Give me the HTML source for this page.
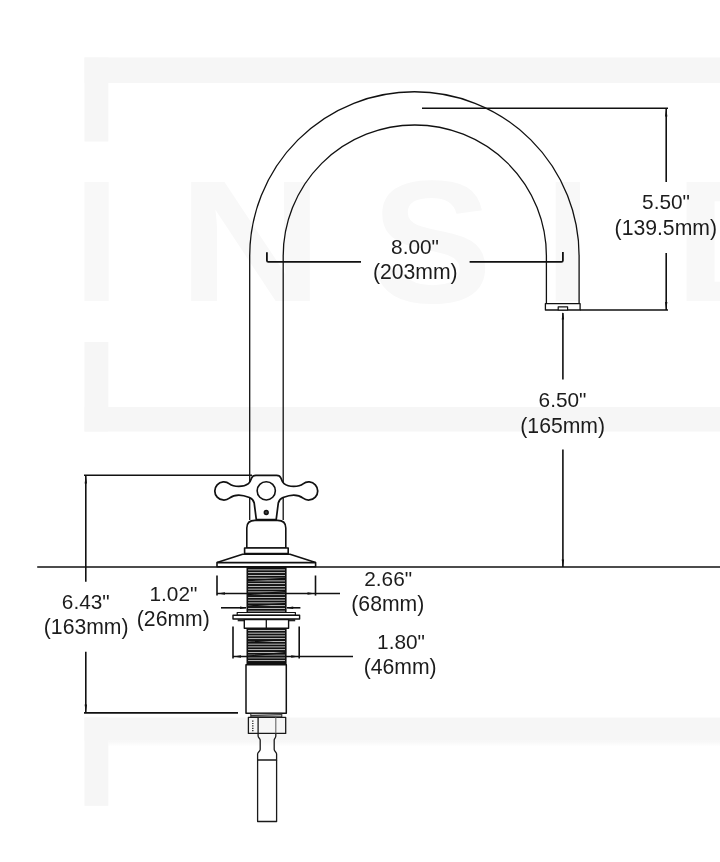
<!DOCTYPE html>
<html>
<head>
<meta charset="utf-8">
<title>Faucet dimensions</title>
<style>
html,body{margin:0;padding:0;background:#fff;}
body{width:720px;height:862px;overflow:hidden;}
svg{display:block;transform:translateZ(0);will-change:transform;}
.t{font-family:"Liberation Sans",Arial,sans-serif;font-size:20.8px;fill:#1c1c1c;text-anchor:middle;}
.wm{font-family:"Liberation Sans",Arial,sans-serif;font-weight:bold;font-size:168px;fill:#f8f8f8;}
.l{stroke:#111;stroke-width:1.6;fill:none;}
.s{stroke:#111;stroke-width:1.3;fill:none;}
.t2{font-size:21.2px;}
.a{fill:#111;stroke:none;}
.o{stroke:#111;stroke-width:1.6;fill:#fff;stroke-linejoin:round;}
</style>
</head>
<body>
<svg width="720" height="862" viewBox="0 0 720 862">
<defs>
<linearGradient id="fade" x1="0" y1="0" x2="0" y2="1"><stop offset="0" stop-color="#f6f6f6"/><stop offset="1" stop-color="#ffffff"/></linearGradient>
<pattern id="thr" x="0" y="567.6" width="40" height="2.75" patternUnits="userSpaceOnUse">
<rect x="0" y="0" width="40" height="2.75" fill="#dddddd"/>
<rect x="0" y="0" width="40" height="1.9" fill="#111"/>
</pattern>
</defs>
<rect width="720" height="862" fill="#fff"/>

<!-- watermark -->
<g fill="#f6f6f6">
<rect x="84.5" y="57.5" width="640" height="25.5"/>
<rect x="84.5" y="57.5" width="23.8" height="84"/>
<rect x="84.5" y="342" width="23.8" height="89.5"/>
<rect x="84.5" y="407" width="640" height="24.5"/>
<rect x="84.5" y="717.6" width="640" height="23"/>
<rect x="108.3" y="740.5" width="616" height="6" fill="url(#fade)"/>
<rect x="84.5" y="717.6" width="23.8" height="88.2"/>
</g>
<g class="wm">
<text transform="translate(85 301) scale(1 1.032)" x="-11.7" y="0">I</text>
<text transform="translate(192.5 301) scale(1.2 1.032)" x="-12.3" y="0">N</text>
<text transform="translate(380 301.5) scale(1.08 1.04)" x="-8" y="0">S</text>
<text transform="translate(556.2 301) scale(1 1.032)" x="-11.7" y="0">I</text>
<text transform="translate(688 301) scale(1.15 1.032)" x="-12.3" y="0">D</text>
</g>

<!-- spout -->
<path class="s" d="M249.7 520 V256 A164.7 164.3 0 0 1 579.1 256 V304"/>
<path class="s" d="M283.2 520 V256 A131.6 131 0 0 1 546.4 256 V304"/>
<rect class="o" style="stroke-width:1.3" x="545.4" y="303.6" width="34.7" height="6.4"/>
<rect class="o" style="stroke-width:1.2" x="558.2" y="306.8" width="9.4" height="3.2"/>


<!-- handle -->
<path class="o" style="stroke-width:1.75" d="M276.60 475.40 C279.00 475.40 280.30 476.40 281.00 478.20 C281.80 480.60 282.30 482.30 284.00 483.60 C286.50 485.50 290.00 486.40 293.70 486.40 C297.00 486.40 301.03 485.42 303.08 483.82 A9.05 9.05 0 1 1 303.08 498.08 C301.03 496.48 297.00 495.00 293.70 495.00 C290.00 495.00 286.00 496.30 283.00 497.50 C280.50 498.50 279.00 500.30 278.30 503.00 L276.20 519.50 H256.30 L254.20 503.00 C253.50 500.30 252.00 498.50 249.50 497.50 C246.50 496.30 242.50 495.00 238.80 495.00 C235.50 495.00 231.47 496.48 229.42 498.08 A9.05 9.05 0 1 1 229.42 483.82 C231.47 485.42 235.50 486.40 238.80 486.40 C242.50 486.40 246.00 485.50 248.50 483.60 C250.20 482.30 250.70 480.60 251.50 478.20 C252.20 476.40 253.50 475.40 255.90 475.40 Z"/>
<circle class="o" cx="266.25" cy="490.85" r="9.1"/>
<circle cx="266.25" cy="512.5" r="1.9" fill="#444" stroke="#111" stroke-width="1.5"/>

<!-- bell -->
<path class="o" d="M255 520.4 H277.6 C283 520.4 285.8 523 285.8 528 V548 H246.8 V528 C246.8 523 249.6 520.4 255 520.4 Z"/>
<rect class="o" x="244.6" y="548" width="43.6" height="5.6"/>
<path class="o" d="M242.6 554.2 H290 L315.6 562.6 V566.8 H217 V562.6 Z"/>
<path class="l" d="M217 562.6 H315.6"/>

<!-- threads -->
<rect x="247.3" y="567.3" width="38.5" height="45.4" fill="url(#thr)" stroke="#111" stroke-width="1.6"/>
<path d="M248 580.6 L285 578.4 M248 594.6 L285 591.6 M248 606 L285 603.5" stroke="#111" stroke-width="1.2" fill="none"/>
<rect x="247.3" y="628" width="38.5" height="36.8" fill="url(#thr)" stroke="#111" stroke-width="1.6"/>
<path d="M248 642 L285 639.6 M248 656 L285 652.6" stroke="#111" stroke-width="1.2" fill="none"/>
<rect x="247.3" y="661.6" width="38.5" height="3.2" fill="#111"/>
<!-- washer + nut -->
<rect class="o" style="stroke-width:1.2" x="237.2" y="612.5" width="58.2" height="2.8"/>
<rect class="o" style="stroke-width:1.4" x="233" y="615.3" width="66.6" height="3.7"/>
<rect x="237.7" y="619" width="6.6" height="2.3" fill="#222"/><rect x="288.6" y="619" width="6.6" height="2.3" fill="#222"/>
<rect class="o" style="stroke-width:1.4" x="244.3" y="619.6" width="44.3" height="8.6"/>
<path class="l" style="stroke-width:1.3" d="M266.3 619.6 V628.2"/>

<!-- lower body -->
<rect class="o" style="stroke-width:1.5" x="246" y="664.8" width="40.3" height="48.4"/>
<rect x="250.8" y="713.4" width="31" height="3.6" fill="#c8c8c8" stroke="#222" stroke-width="1"/>
<path d="M251 715.6 L281.6 714.6" stroke="#222" stroke-width="0.9" fill="none"/>
<g stroke="#1a1a1a" stroke-width="1.3" fill="none" stroke-linejoin="round">
<rect x="248.4" y="717.3" width="37.3" height="16.1"/>
<path d="M258.1 717.3 V733.4"/>
<path d="M275.8 717.3 V733.4" stroke="#666" stroke-width="1.1"/>
<path d="M252.8 720.5 V731.5" stroke-dasharray="1.2 1.2"/>
<path d="M258.1 733.4 V736 C258.1 738 260.2 738.5 260.2 740 V749.5 C260.2 751.5 257.6 752 257.6 754 V760 H276.6 V754 C276.6 752 274.2 751.5 274.2 749.5 V740 C274.2 738.5 275.8 738 275.8 736 V733.4"/>
<path d="M257.6 760 V821.5 H276.6 V760"/>
</g>

<!-- dimension lines -->
<g class="l">
<path d="M266.9 252.2 V260.4 Q266.9 261.9 268.4 261.9 H361" stroke-width="1.8"/>
<path d="M469.6 261.9 H561.4 Q562.9 261.9 562.9 260.4 V252" stroke-width="1.8"/>
<path d="M422 108.3 H668"/>
<path d="M666.2 109 V182"/>
<path d="M666.2 253 V310"/>
<path d="M580 310 H668"/>
<path d="M562.9 313 V379.6"/>
<path d="M562.9 449.4 V567"/>
<path d="M37.2 567 H720"/>
<path d="M84 475.2 H252"/>
<path d="M85.8 475.2 V581.7"/>
<path d="M85.8 651.7 V712.9"/>
<path d="M84 712.9 H238"/>
<path d="M217 575.5 V595.6"/>
<path d="M315.5 575.5 V595.6"/>
<path d="M217 593.5 H340"/>
<path d="M221 607.8 H246"/>
<path d="M287 607.8 H300.4"/>
<path d="M233 626.5 V658.4"/>
<path d="M299.2 626.5 V658.4"/>
<path d="M233 656.5 H353"/>
</g>
<g class="a">
<path d="M217.4 593.5 L225 592.2 V594.8 Z"/>
<path d="M315.1 593.5 L307.5 592.2 V594.8 Z"/>
<path d="M247 607.8 L240 606.5 V609.1 Z"/>
<path d="M286.2 607.8 L293.2 606.5 V609.1 Z"/>
<path d="M233.4 656.5 L241 655.2 V657.8 Z"/>
<path d="M298.8 656.5 L291.2 655.2 V657.8 Z"/>
<path d="M666.2 108.8 L665 116.5 H667.4 Z"/>
<path d="M666.2 309.6 L665 302 H667.4 Z"/>
<path d="M562.9 312 L561.7 319.5 H564.1 Z"/>
<path d="M562.9 567 L561.7 559.5 H564.1 Z"/>
<path d="M85.8 475.6 L84.6 483.5 H87 Z"/>
<path d="M85.8 712.2 L84.6 704.5 H87 Z"/>
</g>

<!-- text -->
<g class="t">
<text x="415" y="254.4">8.00"</text>
<text x="415.3" y="278.8" class="t2">(203mm)</text>
<text x="666" y="209.2">5.50"</text>
<text x="665.8" y="234.6" class="t2">(139.5mm)</text>
<text x="562.5" y="407.2">6.50"</text>
<text x="562.7" y="432.6" class="t2">(165mm)</text>
<text x="85.8" y="609">6.43"</text>
<text x="86.2" y="634" class="t2">(163mm)</text>
<text x="173.4" y="600.7">1.02"</text>
<text x="173.3" y="625.7" class="t2">(26mm)</text>
<text x="388.2" y="586.3">2.66"</text>
<text x="387.8" y="611.3" class="t2">(68mm)</text>
<text x="401" y="649.3">1.80"</text>
<text x="400.2" y="673.8" class="t2">(46mm)</text>
</g>
</svg>
</body>
</html>
